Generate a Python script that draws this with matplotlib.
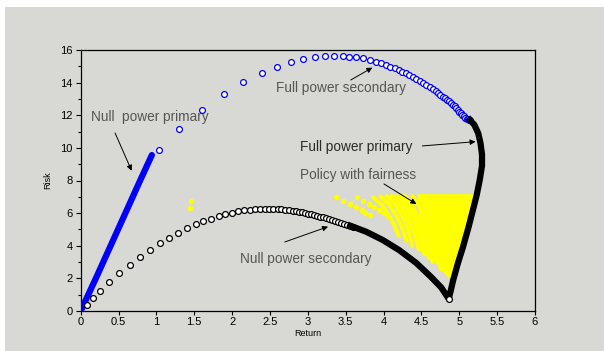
import matplotlib
matplotlib.use('Agg')
import matplotlib.pyplot as plt
from matplotlib.patches import Rectangle, Polygon

plt.rcParams['font.family'] = ['Liberation Sans', 'DejaVu Sans']

# null power primary (thick blue line)
npp_x = [0.0, 0.2, 0.4, 0.6, 0.78, 0.94]
npp_y = [0.0, 2.0, 4.05, 6.1, 7.95, 9.56]

# full power secondary (blue circles)
fps_x = [1.03, 1.30, 1.60, 1.89, 2.15, 2.39, 2.59, 2.78, 2.94, 3.09, 3.23, 3.35,
         3.46, 3.55, 3.64, 3.73, 3.82, 3.90, 3.96, 4.03, 4.09, 4.15, 4.20, 4.25,
         4.30, 4.34, 4.39, 4.43, 4.48, 4.52, 4.56, 4.61, 4.65, 4.69, 4.72, 4.75,
         4.78, 4.81, 4.84, 4.86, 4.89, 4.92, 4.94, 4.96, 4.98, 5.00, 5.02, 5.04,
         5.06, 5.08, 5.10, 5.12, 5.13, 5.14]
fps_y = [9.89, 11.14, 12.34, 13.32, 14.04, 14.60, 14.98, 15.25, 15.43, 15.55, 15.64, 15.65,
         15.65, 15.60, 15.55, 15.50, 15.39, 15.27, 15.19, 15.08, 14.98, 14.88, 14.78, 14.67,
         14.57, 14.45, 14.33, 14.21, 14.08, 13.96, 13.84, 13.72, 13.59, 13.46, 13.36, 13.25,
         13.14, 13.03, 12.92, 12.85, 12.74, 12.63, 12.54, 12.45, 12.34, 12.22, 12.13, 12.04,
         11.95, 11.86, 11.80, 11.75, 11.72, 11.70]

# null power secondary (black circles)
nps_x = [0.08, 0.16, 0.26, 0.38, 0.51, 0.65, 0.78, 0.92, 1.05, 1.17, 1.29, 1.41,
         1.52, 1.62, 1.72, 1.82, 1.91, 2.00, 2.08, 2.16, 2.23, 2.30, 2.37, 2.43,
         2.49, 2.54, 2.60, 2.65, 2.70, 2.75, 2.80, 2.85, 2.88, 2.92, 2.96, 3.00,
         3.04, 3.08, 3.12, 3.16, 3.20, 3.24, 3.28, 3.32, 3.36, 3.40, 3.44, 3.48,
         3.52, 3.56, 3.60]
nps_y = [0.37, 0.78, 1.25, 1.76, 2.31, 2.82, 3.31, 3.76, 4.15, 4.50, 4.80, 5.07,
         5.31, 5.52, 5.66, 5.80, 5.93, 6.03, 6.11, 6.17, 6.21, 6.25, 6.27, 6.27,
         6.27, 6.27, 6.25, 6.23, 6.20, 6.17, 6.14, 6.11, 6.08, 6.05, 6.01, 5.97,
         5.93, 5.88, 5.84, 5.79, 5.74, 5.68, 5.63, 5.57, 5.52, 5.46, 5.41, 5.35,
         5.29, 5.23, 5.17]
nps_end = (4.86, 0.75)

# black frontier: tail of null power secondary, then full power primary
front_x = [3.56, 3.77, 3.99, 4.21, 4.43, 4.62, 4.76, 4.86,
           4.89, 4.92, 4.98, 5.05, 5.12, 5.18, 5.23, 5.27, 5.30, 5.30, 5.28, 5.25, 5.20, 5.14]
front_y = [5.23, 4.86, 4.35, 3.72, 2.95, 2.12, 1.45, 0.75,
           1.30, 1.90, 2.90, 3.94, 5.10, 6.19, 7.10, 8.03, 8.90, 9.60, 10.30, 10.90, 11.40, 11.72]

# policy with fairness (yellow)
pwf_x = [1.46, 1.45]
pwf_y = [6.76, 6.31]
dots_a = ([3.37, 3.46, 3.56, 3.63, 3.71, 3.76, 3.82], [6.97, 6.74, 6.56, 6.39, 6.19, 6.03, 5.89])
dots_b = ([3.65, 3.73, 3.81, 3.87, 3.94, 4.00, 4.06], [6.97, 6.74, 6.56, 6.39, 6.20, 6.00, 5.80])
stripes = [
    ([3.86, 3.98, 4.08, 4.15, 4.20], [6.97, 6.50, 5.80, 5.20, 4.60]),
    ([3.96, 4.08, 4.18, 4.25, 4.30], [7.02, 6.50, 5.75, 5.05, 4.30]),
    ([4.04, 4.16, 4.26, 4.33, 4.38], [7.05, 6.50, 5.70, 4.90, 4.00]),
    ([4.11, 4.23, 4.33, 4.41, 4.47], [7.05, 6.45, 5.60, 4.70, 3.75]),
    ([4.17, 4.30, 4.40, 4.48, 4.54], [7.05, 6.40, 5.50, 4.50, 3.50]),
    ([4.23, 4.35, 4.45, 4.53, 4.60], [7.05, 6.35, 5.40, 4.30, 3.25]),
    ([4.28, 4.40, 4.50, 4.58, 4.65], [7.05, 6.30, 5.30, 4.10, 3.00]),
    ([4.38, 4.50, 4.60, 4.69, 4.76], [7.05, 6.20, 5.00, 3.70, 2.55]),
]
solid_x = [4.46, 5.21, 5.12, 5.00, 4.89, 4.86, 4.74, 4.60, 4.53, 4.50, 4.47]
solid_y = [7.12, 7.12, 5.60, 3.94, 2.10, 2.05, 2.72, 3.40, 4.20, 5.20, 6.20]

bg = '#d8d8d4'
fig = plt.figure(figsize=(6.04, 3.51), dpi=100, facecolor='white')
fig.patches.append(Rectangle((5 / 604, 0), 1, 344 / 351, transform=fig.transFigure,
                             facecolor=bg, edgecolor='none', zorder=-10))
ax = fig.add_axes([80.7 / 604, 1 - 311 / 351, (535 - 80.7) / 604, (311 - 50) / 351])
ax.set_facecolor(bg)

yel = '#ffff00'
ax.add_patch(Polygon(list(zip(solid_x, solid_y)), closed=True, facecolor=yel,
                     edgecolor=yel, lw=1, zorder=2))
for sx, sy in stripes:
    ax.plot(sx, sy, color=yel, lw=3.0, solid_capstyle='round', zorder=2)
for dx, dy in (dots_a, dots_b):
    ax.plot(dx, dy, 'o', color=yel, ms=4.0, mec='none', zorder=2)
ax.plot(pwf_x, pwf_y, 'o', color=yel, ms=4.0, mec='none', zorder=2)

ax.plot(npp_x, npp_y, color='#0000ff', lw=4.5, solid_capstyle='round', zorder=3)
ax.plot(fps_x, fps_y, 'o', ms=4.2, mfc='white', mec='#0000ff', mew=0.9, ls='none', zorder=4)
ax.plot(nps_x, nps_y, 'o', ms=4.2, mfc='white', mec='black', mew=0.9, ls='none', zorder=4)
ax.plot(front_x, front_y, color='black', lw=4.5, solid_joinstyle='round', zorder=5)
ax.plot(*nps_end, 'o', ms=4.2, mfc='white', mec='black', mew=0.9, zorder=6)

ax.set_xlim(0, 6)
ax.set_ylim(0, 16)
ax.set_xticks([0, 0.5, 1, 1.5, 2, 2.5, 3, 3.5, 4, 4.5, 5, 5.5, 6])
ax.set_xticklabels(['0', '0.5', '1', '1.5', '2', '2.5', '3', '3.5', '4', '4.5', '5', '5.5', '6'])
ax.set_yticks(range(0, 17, 2))
ax.set_yticks(range(1, 16, 2), minor=True)
ax.tick_params(which='major', direction='out', length=3.6, width=0.8, labelsize=8, pad=2)
ax.tick_params(which='minor', direction='out', length=2.4, width=0.8)
ax.tick_params(axis='x', which='major', length=3, pad=1.5)
for s in ax.spines.values():
    s.set_linewidth(0.9)
ax.set_xlabel('Return', fontsize=6.5, labelpad=1.5)
ax.set_ylabel('Risk', fontsize=6.5, labelpad=6)

gray = '#555555'
fs = 9.8
ax.text(0.136, 11.9, 'Null  power primary', fontsize=fs, color=gray, va='center')
ax.text(2.58, 13.67, 'Full power secondary', fontsize=fs, color=gray, va='center')
ax.text(2.89, 10.06, 'Full power primary', fontsize=fs, color='#2a2a2a', va='center')
ax.text(2.89, 8.34, 'Policy with fairness', fontsize=fs, color=gray, va='center')
ax.text(2.10, 3.19, 'Null power secondary', fontsize=fs, color=gray, va='center')

arrows = [((0.454, 10.91), (0.673, 8.60)),
          ((3.566, 14.16), (3.852, 14.92)),
          ((4.512, 10.12), (5.215, 10.38)),
          ((4.005, 7.79), (4.433, 6.56)),
          ((2.695, 4.23), (3.267, 5.17))]
for start, end in arrows:
    ax.annotate('', xy=end, xytext=start,
                arrowprops=dict(arrowstyle='-|>', color='black', lw=0.7,
                                mutation_scale=8, shrinkA=0, shrinkB=0), zorder=7)

fig.savefig('out.png', dpi=100, facecolor=fig.get_facecolor())
